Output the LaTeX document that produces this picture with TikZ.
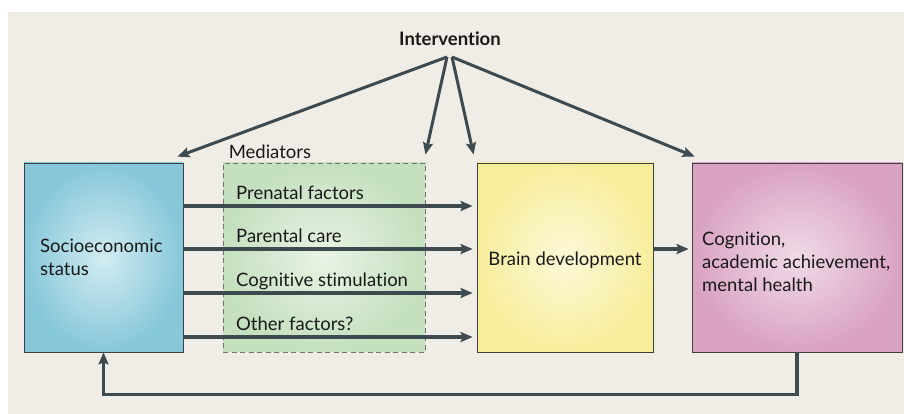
\documentclass[tikz,border=0pt]{standalone}
\usepackage{fontspec}
\setmainfont{Lato}[Ligatures=NoCommon]
\usepackage{xcolor}
\usepackage{tikz}
\usetikzlibrary{arrows.meta,positioning,calc}

\definecolor{paper}{HTML}{F0EDE6}
\definecolor{ink}{HTML}{3D4A50}
\definecolor{sesout}{HTML}{86C7D9}
\definecolor{sesin}{HTML}{D2ECF2}
\definecolor{medout}{HTML}{C4E0BE}
\definecolor{medin}{HTML}{EAF3E6}
\definecolor{brainout}{HTML}{F7EE9C}
\definecolor{brainin}{HTML}{FCF8D8}
\definecolor{cogout}{HTML}{D9A2C3}
\definecolor{cogin}{HTML}{F0DAE7}

\begin{document}
\begin{tikzpicture}[
    x=1pt, y=1pt,
    every node/.style={font=\fontsize{18.5}{23}\selectfont, text=black!90},
    factor/.style={rectangle, draw=black!75, line width=0.8pt, inner sep=0pt,
        minimum height=189pt, shading=radial},
    mediatorbox/.style={rectangle, draw=black!55, dash pattern=on 5pt off 3.5pt, line width=0.9pt,
        inner sep=0pt, minimum height=189pt, minimum width=202pt, shading=radial,
        inner color=medin, outer color=medout},
    arrow/.style={-{Stealth[length=12pt,width=10pt,inset=2pt]}, line width=3.5pt, draw=ink},
    thinarrow/.style={-{Stealth[length=12pt,width=10pt,inset=2pt]}, line width=3pt, draw=ink}
]
\useasboundingbox (0,0) rectangle (904,414);
\fill[paper] (8,0) rectangle (904,402);

% Boxes
\node[mediatorbox] (mediators) at (324,156.5) {};
\node[factor, minimum width=159pt, inner color=sesin, outer color=sesout] (ses) at (103.5,156.5) {};
\node[factor, minimum width=176pt, inner color=brainin, outer color=brainout] (brain) at (565,156.5) {};
\node[factor, minimum width=210pt, inner color=cogin, outer color=cogout] (cog) at (797,156.5) {};

% Texts
\node[anchor=west, align=left, inner sep=0pt] (sestext) at (40,157) {Socioeconomic\\status};
\node (braintext) at ([yshift=-3pt]brain.center) {Brain development};
\node[anchor=west, align=left, inner sep=0pt] (cogtext) at (702,152) {Cognition,\\academic achievement,\\mental health};
\node[anchor=base west, inner sep=0pt] (medlabel) at ($(mediators.north west)+(6,4)$) {Mediators};
\node[font=\fontsize{18.5}{23}\selectfont\bfseries] (intervention) at (450,375) {Intervention};
\coordinate (hub) at (450,357);

% Mediator arrows
\foreach \y/\txt in {208/Prenatal factors, 165/Parental care, 121/Cognitive stimulation, 77/Other factors?}{
  \draw[arrow, shorten >=4pt] (ses.east |- 0,\y) -- (brain.west |- 0,\y);
  \node[anchor=base west, inner sep=0pt] at (236,\y+6) {\txt};
}
\draw[arrow, shorten >=3pt] (brain.east |- 0,165) -- (cog.west |- 0,165);

% Intervention arrows
\draw[thinarrow] ([xshift=-3pt]hub) -- ($(ses.north east)+(-6,6)$);
\draw[thinarrow] ([xshift=-3pt]hub) -- ($(mediators.north east)+(0,8)$);
\draw[thinarrow] ([xshift=2pt]hub) -- ($(brain.north west)+(-3,8)$);
\draw[thinarrow] ([xshift=2pt]hub) -- ($(cog.north west)+(3,6)$);

% Feedback
\draw[arrow] (cog.south) -- ++(0,-42) -| (ses.south);

\end{tikzpicture}
\end{document}
